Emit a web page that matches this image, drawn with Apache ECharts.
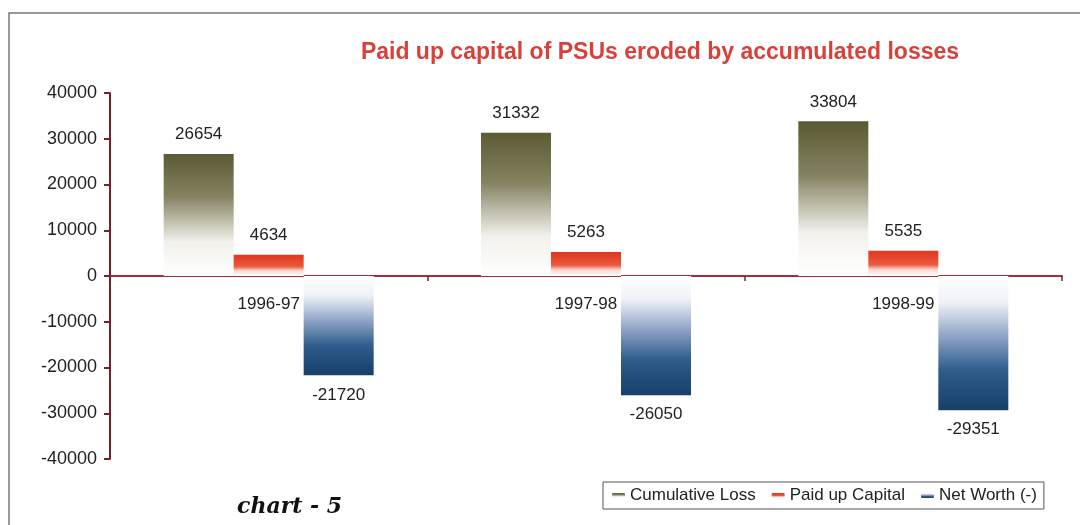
<!DOCTYPE html>
<html>
<head>
<meta charset="utf-8">
<script src="https://cdn.jsdelivr.net/npm/echarts@6/dist/echarts.min.js"></script>
<style>
html,body{margin:0;padding:0;background:#fff;}
#c{width:1080px;height:525px;}
</style>
</head>
<body>
<div id="c"></div>
<script>
var categories = ['1996-97', '1997-98', '1998-99'];
var cumulativeLoss = [26654, 31332, 33804];
var paidUpCapital = [4634, 5263, 5535];
var netWorth = [-21720, -26050, -29351];
var seriesNames = ['Cumulative Loss', 'Paid up Capital', 'Net Worth (-)'];
var yTicks = { min: -40000, max: 40000, interval: 10000 };

var chart = echarts.init(document.getElementById('c'));
var font = 'Liberation Sans, Arial, sans-serif';
var gridTop = 93, gridBottom = 66, H = 525;
var plotH = H - gridTop - gridBottom;
// move the category axis to the zero line
var zeroOffset = -plotH * (0 - yTicks.min) / (yTicks.max - yTicks.min);

function grad(stops) {
  return new echarts.graphic.LinearGradient(0, 0, 0, 1, stops);
}
var labelStyle = { show: true, color: '#222', fontSize: 17, fontFamily: font, distance: 11 };

chart.setOption({
  backgroundColor: '#fff',
  animation: false,
  title: {
    text: 'Paid up capital of PSUs eroded by accumulated losses',
    left: 655, top: 36, textAlign: 'center',
    textStyle: { color: '#d8413a', fontSize: 23, fontWeight: 'bold', fontFamily: font }
  },
  graphic: [
    { type: 'rect', shape: { x: 9, y: 13, width: 1090, height: 530 },
      style: { fill: 'none', stroke: '#777', lineWidth: 1.5 }, silent: true },
    { type: 'text', left: 237, top: 496,
      style: { text: 'chart - 5', fill: '#111', font: 'italic bold 22px DejaVu Serif' } }
  ],
  legend: {
    data: seriesNames,
    left: 603, top: 482,
    padding: [5, 7, 5, 9],
    itemGap: 16,
    itemWidth: 13, itemHeight: 5,
    borderColor: '#555', borderWidth: 1,
    textStyle: { color: '#222', fontSize: 17, fontFamily: font }
  },
  grid: { left: 110, right: 18, top: gridTop, bottom: gridBottom, containLabel: false },
  xAxis: {
    type: 'category',
    data: categories,
    offset: zeroOffset,
    axisLine: { onZero: false, lineStyle: { color: '#a82d3c', width: 2 } },
    axisTick: { show: true, length: 5, lineStyle: { color: '#7a1e2c', width: 1.5 } },
    axisLabel: { color: '#222', fontSize: 17, fontFamily: font, margin: 20 },
    splitLine: { show: false }
  },
  yAxis: {
    type: 'value',
    min: yTicks.min, max: yTicks.max, interval: yTicks.interval,
    axisLine: { show: true, lineStyle: { color: '#7a1e2c', width: 2 } },
    axisTick: { show: true, length: 6, lineStyle: { color: '#7a1e2c', width: 2 } },
    axisLabel: { color: '#222', fontSize: 18, fontFamily: font, margin: 13,
      formatter: function (v) { return String(v); } },
    splitLine: { show: false }
  },
  series: [
    {
      name: seriesNames[0], type: 'bar', data: cumulativeLoss,
      barWidth: 70, barGap: '0%',
      itemStyle: { color: grad([
        { offset: 0, color: '#5c5a34' }, { offset: 0.35, color: '#858262' },
        { offset: 0.72, color: '#f2f1ec' }, { offset: 1, color: '#ffffff' }]) },
      label: Object.assign({ position: 'top' }, labelStyle)
    },
    {
      name: seriesNames[1], type: 'bar', data: paidUpCapital,
      barWidth: 70, barGap: '0%',
      itemStyle: { color: grad([
        { offset: 0, color: '#e0351c' }, { offset: 0.55, color: '#ea5a3e' },
        { offset: 0.75, color: '#fbd8cf' }, { offset: 1, color: '#ffffff' }]) },
      label: Object.assign({ position: 'top' }, labelStyle)
    },
    {
      name: seriesNames[2], type: 'bar', data: netWorth,
      barWidth: 70, barGap: '0%',
      itemStyle: { color: grad([
        { offset: 0, color: '#ffffff' }, { offset: 0.2, color: '#eef1f7' },
        { offset: 0.45, color: '#8ea3c6' }, { offset: 0.7, color: '#2f5d8c' },
        { offset: 1, color: '#173f6a' }]) },
      label: Object.assign({ position: 'bottom' }, labelStyle)
    }
  ]
});
</script>
</body>
</html>
